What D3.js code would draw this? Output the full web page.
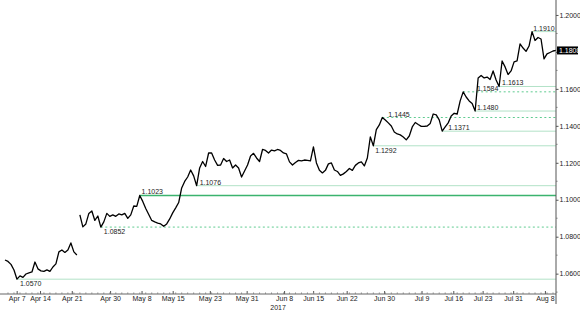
<!DOCTYPE html>
<html>
<head>
<meta charset="utf-8">
<script src="https://cdn.jsdelivr.net/npm/d3@7"></script>
<style>
  body { margin: 0; background: #fff; }
  svg text { font-family: "Liberation Sans Narrow", "Arial Narrow", "Liberation Sans", sans-serif; font-size: 7px; fill: #222; }
</style>
</head>
<body>
<svg id="chart" width="580" height="320"></svg>
<script>
// EUR/USD, roughly two readings per session, early Apr to Aug 9 2017
const prices = [
    1.0674, 1.0666, 1.0650, 1.0620, 1.0570, 1.0588, 1.0580, 1.0598, 1.0604, 1.0609,
    1.0663, 1.0626, 1.0615, 1.0612, 1.0620, 1.0612, 1.0636, 1.0653, 1.0718, 1.0728,
    1.0715, 1.0728, 1.0766, 1.0718, 1.0701,
    1.0918, 1.0853, 1.0869, 1.0926, 1.0939, 1.0888, 1.0912, 1.0852, 1.0880, 1.0926,
    1.0910, 1.0918, 1.0910, 1.0923, 1.0918, 1.0926, 1.0899, 1.0918, 1.0966, 1.0964,
    1.1023, 1.0991, 1.0953, 1.0920, 1.0888,
    1.0880, 1.0874, 1.0869, 1.0856, 1.0869, 1.0896, 1.0929, 1.0956, 1.0985, 1.1064,
    1.1099, 1.1123, 1.1161, 1.1129, 1.1076, 1.1172, 1.1207, 1.1180, 1.1253, 1.1253,
    1.1215, 1.1186, 1.1188, 1.1223, 1.1207,
    1.1215, 1.1172, 1.1188, 1.1172, 1.1123, 1.1156, 1.1188, 1.1237, 1.1251, 1.1226,
    1.1207, 1.1272, 1.1267, 1.1253, 1.1269, 1.1264, 1.1272, 1.1267, 1.1253, 1.1248,
    1.1205, 1.1188, 1.1202, 1.1213, 1.1210,
    1.1215, 1.1213, 1.1210, 1.1286, 1.1199, 1.1159, 1.1145, 1.1159, 1.1194, 1.1199,
    1.1161, 1.1153, 1.1132, 1.1140, 1.1153, 1.1169, 1.1159, 1.1186, 1.1199, 1.1205,
    1.1183, 1.1226, 1.1340, 1.1292, 1.1380,
    1.1405, 1.1445, 1.1432, 1.1416, 1.1399, 1.1367, 1.1356, 1.1351, 1.1340, 1.1324,
    1.1345, 1.1394, 1.1418, 1.1407, 1.1397, 1.1397, 1.1399, 1.1413, 1.1464, 1.1459,
    1.1432, 1.1371, 1.1394, 1.1416, 1.1453,
    1.1468, 1.1464, 1.1535, 1.1584, 1.1556, 1.1535, 1.1521, 1.1480, 1.1659, 1.1673,
    1.1659, 1.1664, 1.1651, 1.1697, 1.1648, 1.1613, 1.1751, 1.1719, 1.1678, 1.1697,
    1.1746, 1.1751, 1.1843, 1.1821, 1.1803,
    1.1832, 1.1910, 1.1862, 1.1878, 1.1870, 1.1762, 1.1789, 1.1797, 1.1805, 1.1808
];
// feed has a hole over the Apr 22-23 weekend, second run starts at this index
const gapAt = 25;
const lastPrice = 1.1808;

// x axis labels and where they sit (in sample index units)
const tickLabels = ['Apr 7', 'Apr 14', 'Apr 21', 'Apr 30', 'May 8', 'May 15', 'May 23', 'May 31', 'Jun 8',
    'Jun 15', 'Jun 22', 'Jun 30', 'Jul 9', 'Jul 16', 'Jul 23', 'Jul 31', 'Aug 8'];
const tickIdx = [3.9, 11.7, 22.3, 35.1, 45.6, 56.0, 68.4, 80.7, 93.2,
    102.9, 114.1, 126.6, 139.1, 149.7, 159.5, 169.7, 180.3];
const yearLabel = '2017';
const yearIdx = 91.2;

const yTicks = [1.06, 1.08, 1.10, 1.12, 1.14, 1.16, 1.18, 1.20];
const yMinor = [1.05, 1.07, 1.09, 1.11, 1.13, 1.15, 1.17, 1.19];

// support / resistance levels marked on the chart
const levels = [1.0570, 1.0852, 1.1023, 1.1076, 1.1292, 1.1371, 1.1445, 1.1480, 1.1584, 1.1613, 1.1910];
const levelFrom = [4, 32, 45, 64, 123, 146, 126, 157, 153, 165, 176];
const levelKind = ['light', 'dash', 'strong', 'light', 'light', 'light', 'dash', 'light', 'dash', 'light', 'light'];
const labelIdx = [5, 33, 45.6, 65, 123.6, 148, 128, 157.6, 157.6, 166, 176.4];
const labelSide = ['below', 'below', 'above', 'above', 'below', 'above', 'above', 'above', 'above', 'above', 'above'];

const svg = d3.select('#chart');

const frame = {left: 5, right: 556, top: 0, bottom: 313, axisY: 294, axisEnd: 304};

const x = d3.scaleLinear()
    .domain([0, prices.length - 1])
    .range([frame.left, frame.right]);
const y = d3.scaleLinear()
    .domain([1.0387, 1.2081])
    .range([frame.bottom, frame.top]);

const fmt = d3.format('.4f');

/* level lines */
const kindStyle = {
    light: {stroke: '#b2e2c7', width: 1, dash: null},
    dash: {stroke: '#5fcb90', width: 1, dash: '2,2.5'},
    strong: {stroke: '#3bb36e', width: 1.6, dash: null}
};

let lv = svg.append('g').attr('class', 'levels')
    .selectAll('g')
    .data(levels)
    .enter()
    .append('g');

lv.append('line')
    .attr('x1', (d, i) => x(levelFrom[i]))
    .attr('x2', frame.right)
    .attr('y1', d => y(d))
    .attr('y2', d => y(d))
    .attr('stroke', (d, i) => kindStyle[levelKind[i]].stroke)
    .attr('stroke-width', (d, i) => kindStyle[levelKind[i]].width)
    .attr('stroke-dasharray', (d, i) => kindStyle[levelKind[i]].dash);

lv.append('text')
    .attr('x', (d, i) => x(labelIdx[i]))
    .attr('y', (d, i) => labelSide[i] === 'above' ? y(d) - 1 : y(d) + 7)
    .text(d => fmt(d));

/* price line, drawn as two runs because of the weekend hole */
const line = d3.line()
    .x(d => x(d.i))
    .y(d => y(d.v));

const pts = prices.map((v, i) => ({i: i, v: v}));
[pts.slice(0, gapAt), pts.slice(gapAt)].forEach((run) => {
    svg.append('path')
        .datum(run)
        .attr('fill', 'none')
        .attr('stroke', '#000')
        .attr('stroke-width', 1.3)
        .attr('stroke-linejoin', 'round')
        .attr('d', line);
});

/* x axis */
let xAxis = svg.append('g')
    .attr('transform', `translate(0,${frame.axisY})`)
    .call(d3.axisBottom(x)
        .tickValues(tickIdx)
        .tickSizeInner(-3)
        .tickSizeOuter(0)
        .tickPadding(2)
        .tickFormat((d, i) => tickLabels[i]));
xAxis.select('.domain').remove();
xAxis.selectAll('line').attr('stroke', '#555');
xAxis.selectAll('text').attr('fill', '#222').attr('font-size', null).attr('font-family', null);

svg.append('line')
    .attr('x1', 0).attr('x2', frame.right)
    .attr('y1', frame.axisY).attr('y2', frame.axisY)
    .attr('stroke', '#666');

// small day ticks
svg.append('g')
    .selectAll('line')
    .data(d3.range(1, prices.length, 2))
    .enter()
    .append('line')
    .attr('x1', d => x(d)).attr('x2', d => x(d))
    .attr('y1', frame.axisY).attr('y2', frame.axisY - 1.5)
    .attr('stroke', '#888');

svg.append('text')
    .attr('x', x(yearIdx))
    .attr('y', frame.axisY + 16)
    .attr('text-anchor', 'middle')
    .text(yearLabel);

/* y axis on the right */
let yAxis = svg.append('g')
    .attr('transform', `translate(${frame.right},0)`)
    .call(d3.axisRight(y)
        .tickValues(yTicks)
        .tickSizeInner(2.5)
        .tickSizeOuter(0)
        .tickPadding(1)
        .tickFormat(d => d === 1.18 ? '' : fmt(d)));
yAxis.select('.domain').remove();
yAxis.selectAll('line').attr('stroke', '#555');
yAxis.selectAll('text').attr('fill', '#222').attr('font-size', null).attr('font-family', null);

svg.append('line')
    .attr('x1', frame.right).attr('x2', frame.right)
    .attr('y1', 0).attr('y2', frame.axisEnd)
    .attr('stroke', '#555');

svg.append('g')
    .selectAll('line')
    .data(yMinor)
    .enter()
    .append('line')
    .attr('x1', frame.right).attr('x2', frame.right + 1.5)
    .attr('y1', d => y(d)).attr('y2', d => y(d))
    .attr('stroke', '#777');

/* last price tag */
svg.append('rect')
    .attr('x', frame.right + 1)
    .attr('y', y(lastPrice) - 4)
    .attr('width', 21)
    .attr('height', 8)
    .attr('fill', '#000');
svg.append('text')
    .attr('x', frame.right + 3)
    .attr('y', y(lastPrice) + 2.5)
    .style('fill', '#fff')
    .text(fmt(lastPrice));
</script>
</body>
</html>
